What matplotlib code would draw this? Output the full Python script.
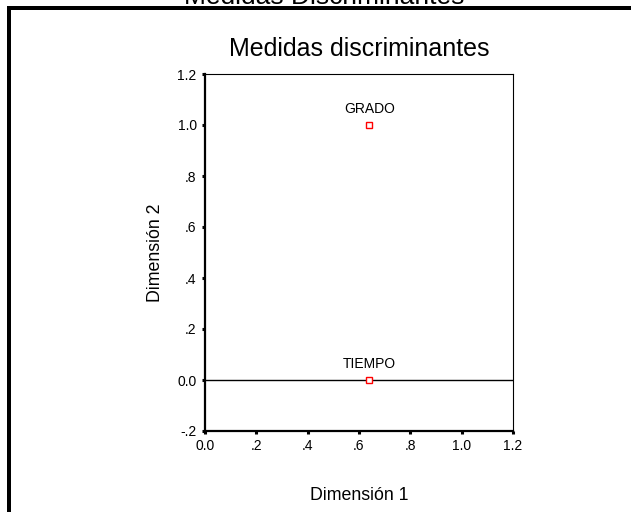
import matplotlib
matplotlib.use('Agg')
import matplotlib.pyplot as plt
from matplotlib.lines import Line2D

plt.rcParams['font.family'] = ['Liberation Sans', 'DejaVu Sans']

# data
names = ['GRADO', 'TIEMPO']
dim1 = [0.64, 0.64]
dim2 = [1.0, 0.0]
xticks = [0.0, 0.2, 0.4, 0.6, 0.8, 1.0, 1.2]
xticklabels = ['0.0', '.2', '.4', '.6', '.8', '1.0', '1.2']
yticks = [-0.2, 0.0, 0.2, 0.4, 0.6, 0.8, 1.0, 1.2]
yticklabels = ['-.2', '0.0', '.2', '.4', '.6', '.8', '1.0', '1.2']

W, H = 631, 512
fig = plt.figure(figsize=(W / 100, H / 100), dpi=100)
fig.patch.set_facecolor('white')

# outer frame (cropped SPSS output window)
lw_frame = 4 * 72 / 100
fig.add_artist(Line2D([9 / W, 1.0], [1 - 8 / H, 1 - 8 / H], color='black', lw=lw_frame,
                      transform=fig.transFigure, solid_capstyle='butt'))
fig.add_artist(Line2D([9 / W, 9 / W], [0.0, 1 - 6 / H], color='black', lw=lw_frame,
                      transform=fig.transFigure, solid_capstyle='butt'))
fig.text(324 / W, 1 - 4 / H, 'Medidas Discriminantes', ha='center', va='baseline', fontsize=19)

ax = fig.add_axes([205 / W, 1 - 431 / H, 308 / W, 357 / H])
ax.set_xlim(0, 1.2)
ax.set_ylim(-0.2, 1.2)
ax.axhline(0, color='black', lw=1)
ax.plot(dim1, dim2, ls='none', marker='s', ms=4.5, mfc='white', mec='red', mew=1)
for n, x, y in zip(names, dim1, dim2):
    ax.annotate(n, (x, y), xytext=(0, 11.5), textcoords='offset points',
                ha='center', va='center', fontsize=10)

for s in ['left', 'bottom']:
    ax.spines[s].set_linewidth(1.6)
for s in ['top', 'right']:
    ax.spines[s].set_linewidth(0.8)
ax.set_xticks(xticks)
ax.set_xticklabels(xticklabels)
ax.set_yticks(yticks)
ax.set_yticklabels(yticklabels)
ax.tick_params(direction='out', length=2, width=2.2, labelsize=10, pad=4)

ax.set_xlabel('Dimensión 1', fontsize=12.8, labelpad=24)
ax.set_ylabel('Dimensión 2', fontsize=12.8, labelpad=10)
ax.set_title('Medidas discriminantes', fontsize=18, pad=13)

fig.savefig('out.png', dpi=100, facecolor='white')
